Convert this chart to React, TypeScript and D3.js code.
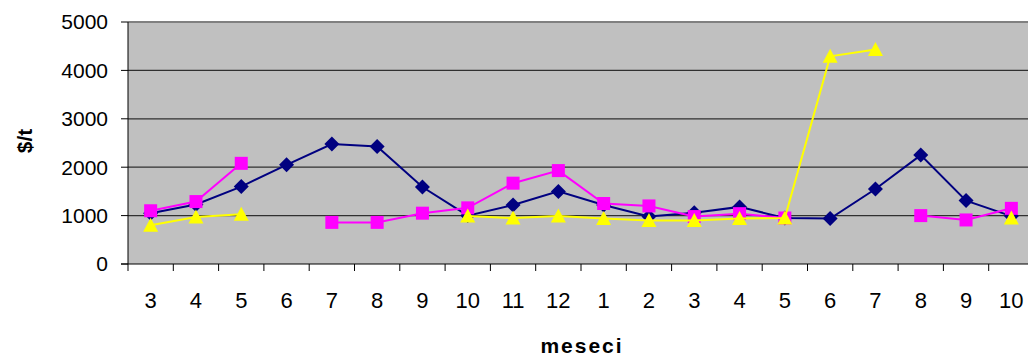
import React from "react";
import * as d3 from "d3";

const categories: string[] = ["3", "4", "5", "6", "7", "8", "9", "10", "11", "12", "1", "2", "3", "4", "5", "6", "7", "8", "9", "10"];
const navySeries: (number | null)[] = [1050, 1230, 1600, 2050, 2480, 2430, 1590, 1000, 1220, 1500, 1220, 980, 1060, 1180, 950, 940, 1550, 2250, 1310, 990];
const magentaSeries: (number | null)[] = [1100, 1290, 2080, null, 860, 860, 1050, 1160, 1670, 1930, 1250, 1200, 980, 1040, 950, null, null, 1000, 910, 1150];
const yellowSeries: (number | null)[] = [800, 970, 1030, null, null, null, null, 990, 950, 990, 940, 900, 900, 940, 950, 4290, 4430, null, null, 950];
const yTicks: number[] = [0, 1000, 2000, 3000, 4000, 5000];

const W = 1028;
const H = 358;
const left = 128;
const right = 1034;
const top = 22;
const bottom = 264;

type Shape = "diamond" | "square" | "triangle";

export default function App() {
  const x = d3.scaleBand<number>().domain(categories.map((_, i) => i)).range([left, right]).padding(0);
  const y = d3.scaleLinear().domain([0, 5000]).range([bottom, top]);
  const cx = (i: number) => (x(i) as number) + x.bandwidth() / 2;

  const line = d3
    .line<number | null>()
    .defined((d) => d != null)
    .x((_, i) => cx(i))
    .y((d) => y(d as number));

  const series: { data: (number | null)[]; color: string; shape: Shape }[] = [
    { data: navySeries, color: "#000080", shape: "diamond" },
    { data: magentaSeries, color: "#FF00FF", shape: "square" },
    { data: yellowSeries, color: "#FFFF00", shape: "triangle" },
  ];

  const marker = (shape: Shape, px: number, py: number, color: string, key: string) => {
    if (shape === "diamond") {
      const r = 7.5;
      return <path key={key} d={`M${px},${py - r}L${px + r},${py}L${px},${py + r}L${px - r},${py}Z`} fill={color} />;
    }
    if (shape === "square") {
      const s = 6.5;
      return <rect key={key} x={px - s} y={py - s} width={2 * s} height={2 * s} fill={color} />;
    }
    const hw = 7.5;
    return <path key={key} d={`M${px},${py - 7.5}L${px + hw},${py + 6.5}L${px - hw},${py + 6.5}Z`} fill={color} />;
  };

  const font = "Arial, 'Liberation Sans', sans-serif";

  return (
    <svg width={W} height={H} style={{ position: "absolute", left: 0, top: 0 }} fontFamily={font}>
      <rect x={0} y={0} width={W} height={H} fill="#ffffff" />
      <rect x={left} y={top} width={right - left} height={bottom - top} fill="#C0C0C0" />
      {yTicks.filter((t) => t > 0 && t < 5000).map((t) => (
        <line key={"g" + t} x1={left} x2={right} y1={y(t)} y2={y(t)} stroke="#303030" strokeWidth={1.3} />
      ))}
      <line x1={left} x2={right} y1={y(5000)} y2={y(5000)} stroke="#808080" strokeWidth={2} />
      <line x1={left} x2={left} y1={top} y2={bottom} stroke="#000" strokeWidth={1} />
      <line x1={left - 7} x2={right} y1={bottom} y2={bottom} stroke="#000" strokeWidth={1} />
      {yTicks.map((t) => (
        <g key={"yt" + t}>
          <line x1={left - 7} x2={left} y1={y(t)} y2={y(t)} stroke="#000" />
          <text x={108} y={y(t)} dy="0.35em" textAnchor="end" fontSize={21} fill="#000">
            {t}
          </text>
        </g>
      ))}
      {categories.map((c, i) => (
        <g key={"xt" + i}>
          <line x1={x(i) as number} x2={x(i) as number} y1={bottom} y2={bottom + 7} stroke="#000" />
          <text x={cx(i)} y={308} textAnchor="middle" fontSize={22} fill="#000">
            {c}
          </text>
        </g>
      ))}
      {series.map((s, si) => (
        <g key={"s" + si}>
          <path d={line(s.data) || ""} fill="none" stroke={s.color} strokeWidth={2} />
          {s.data.map((v, i) => (v == null ? null : marker(s.shape, cx(i), y(v), s.color, `m${si}-${i}`)))}
        </g>
      ))}
      <text x={582} y={353} textAnchor="middle" fontSize={21} fontWeight="bold" letterSpacing={2} fill="#000">
        meseci
      </text>
      <text transform={`translate(32,141) rotate(-90)`} textAnchor="middle" fontSize={21} fontWeight="bold" fill="#000">
        $/t
      </text>
    </svg>
  );
}
